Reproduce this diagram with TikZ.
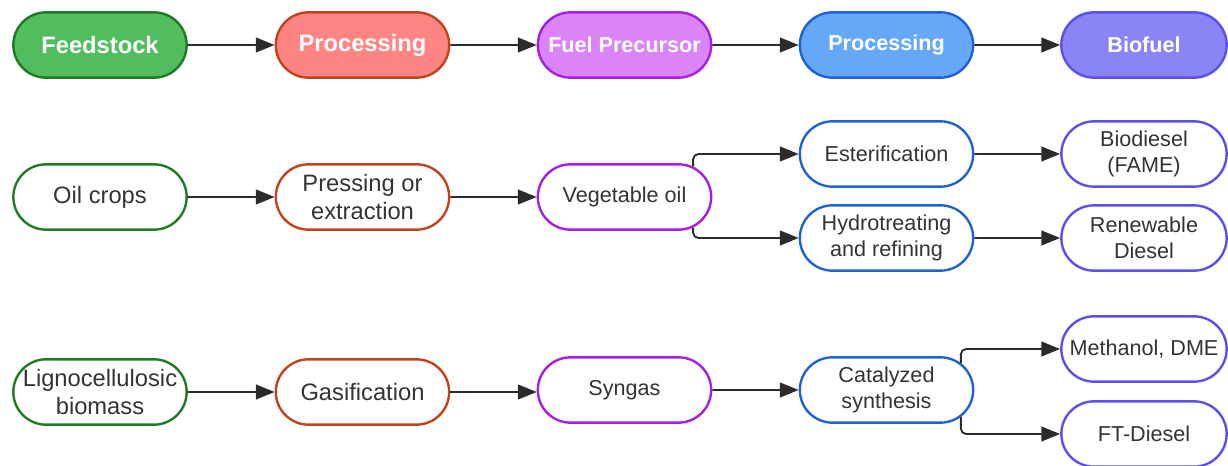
\documentclass[tikz,border=0pt]{standalone}
\usepackage{fontspec}
\setmainfont{Liberation Sans}
\usetikzlibrary{arrows.meta,shapes.misc}

\definecolor{feedline}{HTML}{1E7B24}
\definecolor{feedfill}{HTML}{52BD5E}
\definecolor{procline}{HTML}{C2431B}
\definecolor{procfill}{HTML}{FF8585}
\definecolor{precline}{HTML}{A41FE0}
\definecolor{precfill}{HTML}{DA84F8}
\definecolor{convline}{HTML}{1F63D2}
\definecolor{convfill}{HTML}{66A8F8}
\definecolor{fuelline}{HTML}{5A4EF0}
\definecolor{fuelfill}{HTML}{8A85F6}
\definecolor{arrowgray}{HTML}{2B2B2B}
\definecolor{textgray}{HTML}{333333}

\tikzset{
  pill/.style={rounded rectangle, draw, line width=1.8pt, minimum width=132pt,
    minimum height=49pt, align=center, inner sep=1pt, text=textgray},
  bigtext/.style={font=\fontsize{17.8}{21}\selectfont},
  smalltext/.style={font=\fontsize{16.2}{19.5}\selectfont},
  headbig/.style={pill, text=white, font=\bfseries\fontsize{17.8}{21}\selectfont},
  headsmall/.style={pill, text=white, font=\bfseries\fontsize{16.2}{19.5}\selectfont},
  narrow/.style={minimum width=126pt},
  flow/.style={-{Triangle[length=14pt,width=11pt]}, line width=1.4pt,
    draw=arrowgray, rounded corners=4pt}
}

\begin{document}
\begin{tikzpicture}[x=0.75pt,y=-0.75pt]
\useasboundingbox (0,0) rectangle (1228,466);

\node[headbig, fill=feedfill, draw=feedline] (hfeed) at (100,45) {Feedstock};
\node[headbig, fill=procfill, draw=procline] (hproc) at (362.5,45) {Processing};
\node[headsmall, fill=precfill, draw=precline] (hprec) at (624.5,45) {Fuel Precursor};
\node[headsmall, fill=convfill, draw=convline] (hconv) at (886.5,45) {Processing};
\node[headsmall, narrow, fill=fuelfill, draw=fuelline] (hfuel) at (1144,45) {Biofuel};

\node[pill, bigtext, draw=feedline] (oilcrops) at (100,197) {Oil crops};
\node[pill, bigtext, draw=procline] (pressing) at (362.5,197) {Pressing or\\extraction};
\node[pill, smalltext, draw=precline] (vegoil) at (624.5,197) {Vegetable oil};
\node[pill, smalltext, draw=convline] (ester) at (886.5,154) {Esterification};
\node[pill, smalltext, draw=convline] (hydro) at (886.5,238) {Hydrotreating\\and refining};
\node[pill, smalltext, narrow, draw=fuelline] (biodiesel) at (1144,154) {Biodiesel\\(FAME)};
\node[pill, smalltext, narrow, draw=fuelline] (renewable) at (1144,238) {Renewable\\Diesel};

\node[pill, bigtext, draw=feedline] (ligno) at (100,392) {Lignocellulosic\\biomass};
\node[pill, bigtext, draw=procline] (gasif) at (362.5,392) {Gasification};
\node[pill, smalltext, draw=precline] (syngas) at (624.5,390) {Syngas};
\node[pill, smalltext, draw=convline] (catal) at (886.5,390) {Catalyzed\\synthesis};
\node[pill, smalltext, narrow, draw=fuelline] (methanol) at (1144,349) {Methanol, DME};
\node[pill, smalltext, narrow, draw=fuelline] (ftdiesel) at (1144,434) {FT-Diesel};

\draw[flow] (hfeed) -- (hproc);
\draw[flow] (hproc) -- (hprec);
\draw[flow] (hprec) -- (hconv);
\draw[flow] (hconv) -- (hfuel);

\draw[flow] (oilcrops) -- (pressing);
\draw[flow] (pressing) -- (vegoil);
\draw[flow] (vegoil.24) |- (ester);
\draw[flow] (vegoil.-24) |- (hydro);
\draw[flow] (ester) -- (biodiesel);
\draw[flow] (hydro) -- (renewable);

\draw[flow] (ligno) -- (gasif);
\draw[flow] (gasif.east) -- (gasif.east -| syngas.west);
\draw[flow] (syngas) -- (catal);
\draw[flow] (catal.20) |- (methanol);
\draw[flow] (catal.-20) |- (ftdiesel);
\end{tikzpicture}
\end{document}
